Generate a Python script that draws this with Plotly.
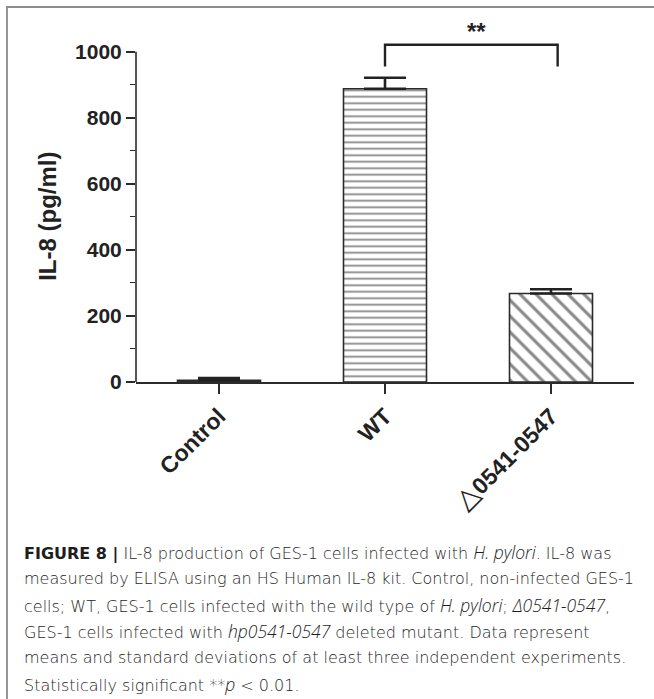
import plotly.graph_objects as go

# IL-8 secretion by GES-1 cells (pg/ml), mean and SD
groups = ["Control", "WT", "△0541-0547"]
il8_mean = [5, 888, 268]
il8_sd = [7, 33, 13]

y_ticks = [0, 200, 400, 600, 800, 1000]
y_minor = [100, 300, 500, 700, 900]
sig_label = "**"

W, H = 654, 699
ML, MR, MT, MB = 136, 20, 22, 317
Y_RANGE = [0, 1090]
X_RANGE = [-0.5, 2.5]

AX = "#2b2b2b"
BOLD_Y = dict(family="Liberation Sans, Arial, sans-serif", size=21, color="#222", weight="bold")
BOLD_X = dict(family="Liberation Sans, Arial, sans-serif", size=23, color="#222", weight="bold")

tick_text = [
    "Control",
    "WT",
    "<span style='font-weight:normal;font-size:28px'>△</span>0541-0547",
]

patterns = [
    dict(shape="", fillmode="replace"),
    dict(shape="-", size=6.5, solidity=0.28, fgcolor="#111", bgcolor="white"),
    dict(shape="\\", size=11.3, solidity=0.27, fgcolor="#111", bgcolor="white"),
]
fills = ["#8a8a8a", "white", "white"]

fig = go.Figure()
for i, g in enumerate(groups):
    fig.add_trace(go.Bar(
        x=[i], y=[il8_mean[i]], width=0.5,
        marker=dict(color=fills[i], pattern=patterns[i],
                    line=dict(color=AX, width=1.6)),
        error_y=dict(type="data", symmetric=False, array=[il8_sd[i]],
                     arrayminus=[0], color="#222", thickness=2.6, width=21),
        showlegend=False,
    ))

px_w = W - ML - MR
px_h = H - MT - MB


def px_x(px):
    return (px - ML) / px_w


def px_y(py):
    return (H - MB - py) / px_h


shapes = []
# y axis line only up to the top tick
shapes.append(dict(type="line", xref="paper", yref="y", x0=0, x1=0,
                   y0=0, y1=y_ticks[-1], line=dict(color=AX, width=1.6)))
# significance bracket between WT and the deletion mutant
br_low, br_high = 955, 1021
shapes.append(dict(type="path", xref="x", yref="y",
                   path=f"M 1,{br_low} L 1,{br_high} L 2.04,{br_high} L 2.04,{br_low}",
                   line=dict(color="#222", width=2.4)))
# outer frame (left and top edges visible)
shapes.append(dict(type="rect", xref="paper", yref="paper",
                   x0=px_x(7), x1=px_x(W + 40), y0=px_y(7), y1=px_y(H + 40),
                   line=dict(color="#8c8c8c", width=1.8), fillcolor="rgba(0,0,0,0)"))

annotations = [
    dict(x=1.55, y=1062, xref="x", yref="y", text=sig_label, showarrow=False,
         font=dict(family="Liberation Sans, Arial, sans-serif", size=24, color="#222", weight="bold")),
    dict(x=px_x(48), y=0.5 * y_ticks[-1], xref="paper", yref="y", text="IL-8 (pg/ml)",
         textangle=-90, showarrow=False, xanchor="center", yanchor="middle",
         font=dict(family="Liberation Sans, Arial, sans-serif", size=24, color="#222", weight="bold")),
]


def it(s):
    # light italic runs come from a family that ships a light italic face
    return ("<span style='font-family:Open Sans;font-weight:300;"
            f"font-style:italic;font-size:17.5px'>{s}</span>")


caption_lines = [
    f"<b>FIGURE 8 |</b> IL-8 production of GES-1 cells infected with {it('H. pylori')}. IL-8 was",
    "measured by ELISA using an HS Human IL-8 kit. Control, non-infected GES-1",
    f"cells; WT, GES-1 cells infected with the wild type of {it('H. pylori')}; {it('Δ0541-0547')},",
    f"GES-1 cells infected with {it('hp0541-0547')} deleted mutant. Data represent",
    "means and standard deviations of at least three independent experiments.",
    f"Statistically significant **{it('p')} &lt; 0.01.",
]
cap_font = dict(family="DejaVu Sans, Liberation Sans, sans-serif", size=16, color="#1e1e1e", weight=300)
for k, line in enumerate(caption_lines):
    annotations.append(dict(
        x=px_x(22), y=px_y(552 + 26.4 * k), xref="paper", yref="paper",
        xanchor="left", yanchor="middle", align="left",
        text=line, showarrow=False, font=cap_font,
    ))

fig.update_layout(
    width=W, height=H,
    margin=dict(l=ML, r=MR, t=MT, b=MB, pad=0),
    paper_bgcolor="white", plot_bgcolor="white",
    bargap=0.5,
    shapes=shapes, annotations=annotations,
    xaxis=dict(
        range=X_RANGE, tickmode="array", tickvals=[0, 1, 2], ticktext=tick_text,
        tickangle=-45, tickfont=BOLD_X, showline=True, linecolor=AX, linewidth=1.6,
        ticks="outside", ticklen=10, tickwidth=1.6, tickcolor=AX,
        showgrid=False, zeroline=False, fixedrange=True,
    ),
    yaxis=dict(
        range=Y_RANGE, tickmode="array", tickvals=y_ticks,
        ticktext=[str(v) for v in y_ticks], tickfont=BOLD_Y,
        showline=False, ticks="outside", ticklen=9, tickwidth=1.6, tickcolor=AX,
        minor=dict(tickmode="array", tickvals=y_minor, ticks="outside",
                   ticklen=5, tickwidth=1.4, tickcolor=AX, showgrid=False),
        showgrid=False, zeroline=False, fixedrange=True,
    ),
)

fig.write_html("out.html")
